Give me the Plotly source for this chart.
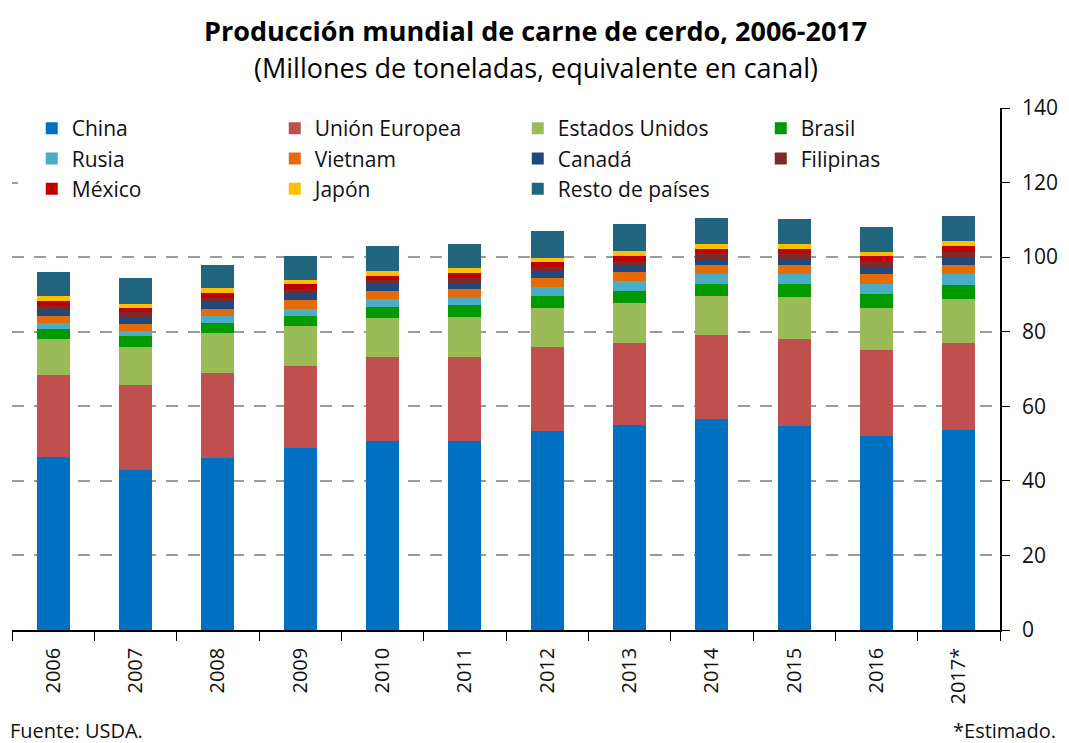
import plotly.graph_objects as go

years = ["2006", "2007", "2008", "2009", "2010", "2011", "2012", "2013", "2014", "2015", "2016", "2017*"]

china = [46.5, 42.9, 46.0, 48.8, 50.7, 50.7, 53.3, 54.9, 56.7, 54.7, 51.9, 53.6]
union_europea = [21.9, 22.9, 22.8, 22.1, 22.6, 22.6, 22.6, 22.1, 22.4, 23.3, 23.2, 23.4]
estados_unidos = [9.7, 10.1, 10.8, 10.5, 10.3, 10.6, 10.4, 10.8, 10.6, 11.3, 11.2, 11.7]
brasil = [2.7, 2.9, 2.7, 2.9, 3.1, 3.2, 3.4, 3.1, 3.2, 3.4, 3.8, 3.8]
rusia = [1.6, 1.5, 1.8, 1.8, 2.0, 1.9, 2.3, 2.6, 2.6, 2.7, 2.7, 3.0]
vietnam = [1.9, 1.8, 2.1, 2.3, 2.1, 2.4, 2.3, 2.4, 2.4, 2.5, 2.6, 2.5]
canada = [1.8, 1.8, 1.7, 1.9, 1.9, 1.8, 1.8, 1.9, 1.7, 1.7, 1.8, 1.8]
filipinas = [0.8, 1.3, 1.1, 1.1, 1.1, 1.1, 1.2, 1.1, 1.4, 1.4, 1.7, 1.7]
mexico = [1.4, 1.1, 1.3, 1.3, 1.2, 1.4, 1.3, 1.4, 1.2, 1.3, 1.4, 1.4]
japon = [1.2, 1.2, 1.3, 1.1, 1.4, 1.3, 1.2, 1.3, 1.3, 1.3, 1.2, 1.4]
resto = [6.4, 6.8, 6.4, 6.5, 6.6, 6.6, 7.1, 7.2, 6.9, 6.7, 6.5, 6.7]

series = [
    ("China", china, "#0070C0"),
    ("Unión Europea", union_europea, "#C0504D"),
    ("Estados Unidos", estados_unidos, "#9BBB59"),
    ("Brasil", brasil, "#009A00"),
    ("Rusia", rusia, "#4BACC6"),
    ("Vietnam", vietnam, "#E36C09"),
    ("Canadá", canada, "#1F497D"),
    ("Filipinas", filipinas, "#7F2A2A"),
    ("México", mexico, "#C00000"),
    ("Japón", japon, "#FFC000"),
    ("Resto de países", resto, "#22657F"),
]

FONT = "'Open Sans', sans-serif"

fig = go.Figure()
for name, vals, color in series:
    fig.add_trace(go.Bar(x=years, y=vals, name=name, marker=dict(color=color, line=dict(width=0))))

fig.update_layout(
    barmode="stack",
    bargap=0.6,
    width=1069,
    height=743,
    margin=dict(l=12, r=69, t=108, b=113, autoexpand=False),
    plot_bgcolor="white",
    paper_bgcolor="white",
    font=dict(family=FONT, color="#111111"),
    showlegend=True,
    legend=dict(
        orientation="h",
        x=0.02, y=1.0, xanchor="left", yanchor="top",
        entrywidth=198, entrywidthmode="pixels",
        traceorder="normal",
        font=dict(size=21, family=FONT),
        bgcolor="rgba(0,0,0,0)",
        itemwidth=30,
        tracegroupgap=0,
    ),
    xaxis=dict(
        type="category",
        automargin=False,
        showline=True, linecolor="black", linewidth=1.5,
        ticks="outside", tickson="boundaries", ticklen=9, tickcolor="black",
        tickangle=-90,
        ticklabelstandoff=8,
        tickfont=dict(size=20, family=FONT),
        showgrid=False,
    ),
    yaxis=dict(
        side="right",
        automargin=False,
        range=[0, 140],
        dtick=20,
        showline=True, linecolor="black", linewidth=1.5,
        ticks="outside", ticklen=8, tickcolor="black",
        ticklabelstandoff=8,
        tickfont=dict(size=21, family=FONT),
        showgrid=True, gridcolor="#9a9a9a", gridwidth=2, griddash="12px,10px",
        zeroline=False,
    ),
    shapes=[
        dict(type="rect", xref="paper", yref="paper", x0=0.006, x1=0.997, y0=0.815, y1=0.99,
             fillcolor="white", line=dict(width=0), layer="above"),
    ],
    annotations=[
        dict(text="<b>Producción mundial de carne de cerdo, 2006-2017</b>", xref="paper", yref="paper",
             x=0.53, y=1, yshift=78, xanchor="center", yanchor="middle",
             showarrow=False, font=dict(size=27, family=FONT, color="black")),
        dict(text="(Millones de toneladas, equivalente en canal)", xref="paper", yref="paper",
             x=0.53, y=1, yshift=41, xanchor="center", yanchor="middle",
             showarrow=False, font=dict(size=27, family=FONT, color="black")),
        dict(text="Fuente: USDA.", xref="paper", yref="paper", x=0, y=0, xshift=-4, yshift=-100,
             xanchor="left", yanchor="middle", showarrow=False, font=dict(size=20, family=FONT)),
        dict(text="*Estimado.", xref="paper", yref="paper", x=1, y=0, xshift=58, yshift=-100,
             xanchor="right", yanchor="middle", showarrow=False, font=dict(size=20, family=FONT)),
    ],
)

fig.write_html("out.html", config={"displayModeBar": False},
               post_script="document.body.style.margin='0';")
